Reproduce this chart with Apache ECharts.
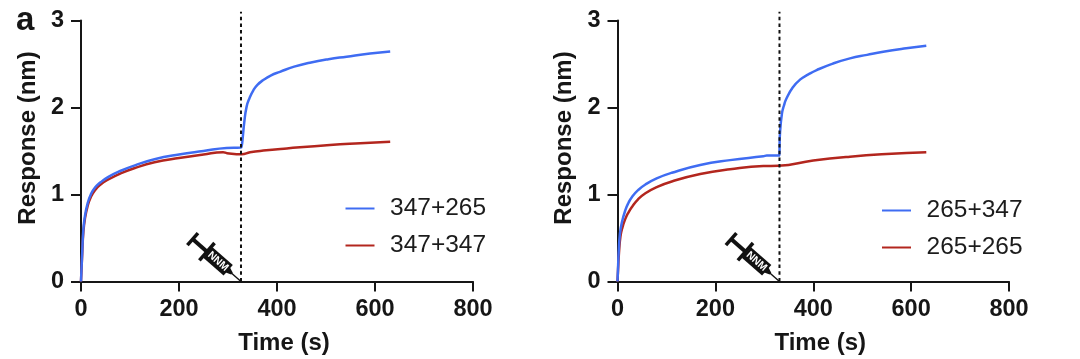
<!DOCTYPE html>
<html><head><meta charset="utf-8">
<style>html,body{margin:0;padding:0;background:#fff}#c{width:1080px;height:359px}</style>
<script src="https://cdn.jsdelivr.net/npm/echarts@6/dist/echarts.min.js"></script>
</head><body><div id="c"></div>
<script>
const leftBlue=[[0,0],[1,0.14],[2.5,0.34],[4.7,0.59],[8,0.75],[13.6,0.9],[20,1],[28.6,1.08],[40,1.14],[55,1.2],[80,1.27],[110,1.335],[150,1.405],[200,1.46],[250,1.5],[297,1.535],[326,1.54],[328,1.56],[330,1.65],[333,1.82],[338,2.01],[344,2.11],[352,2.2],[360,2.26],[372,2.316],[388,2.37],[406,2.41],[435,2.47],[467,2.515],[505,2.555],[542,2.584],[590,2.62],[631,2.645]];
const leftRed=[[0,0],[1,0.13],[2.5,0.32],[4.7,0.56],[8,0.72],[13.6,0.87],[20,0.97],[28.6,1.05],[40,1.115],[55,1.17],[80,1.24],[110,1.305],[150,1.37],[200,1.42],[250,1.46],[290,1.485],[298,1.475],[328,1.462],[345,1.485],[372,1.505],[420,1.53],[508,1.57],[570,1.59],[631,1.607]];
const rightBlue=[[0,0],[1,0.14],[2.4,0.34],[5,0.55],[9,0.68],[16,0.82],[22,0.9],[30,0.975],[42,1.05],[57,1.115],[80,1.185],[111,1.25],[169,1.339],[230,1.395],[298,1.44],[305,1.447],[330,1.447],[332,1.7],[336,1.93],[340,2.02],[345,2.1],[358,2.23],[373,2.32],[390,2.38],[407,2.43],[440,2.505],[475,2.565],[510,2.605],[543,2.64],[590,2.68],[631,2.71]];
const rightRed=[[0,0],[1.2,0.14],[3,0.33],[6,0.515],[10,0.62],[16,0.72],[22,0.79],[30,0.86],[42,0.945],[57,1.015],[80,1.085],[111,1.15],[169,1.235],[230,1.29],[298,1.327],[329,1.33],[400,1.39],[475,1.435],[550,1.465],[631,1.485]];
const leftInject=[[326.5,0],[326.5,3.1]];
const rightInject=[[331,0],[331,3.1]];
const leftTip=[[326.5,0]];
const rightTip=[[331,0]];
const xTicks={min:0,max:800,interval:200};
const yTicks={min:0,max:3,interval:1};
const namesLeft=['347+265','347+347'];
const namesRight=['265+347','265+265'];
const BLUE='#3f6cf2',RED='#b3261e',INK='#161616',FONT='"Liberation Sans",Arial,sans-serif';

function syringe(params,api){
  const p=api.coord([api.value(0),api.value(1)]);
  const r=(x,y,w,h)=>({type:'rect',shape:{x,y,width:w,height:h},style:{fill:'#111'}});
  return {type:'group',x:p[0],y:p[1],rotation:-0.72,children:[
    {type:'line',shape:{x1:-17,y1:0,x2:0,y2:0},style:{stroke:'#111',lineWidth:1.4}},
    {type:'polygon',shape:{points:[[-18,-3.5],[-12,-1.2],[-12,1.2],[-18,3.5]]},style:{fill:'#111'}},
    r(-44,-7,27,14),
    r(-64,-2,20,4),
    r(-47,-11.5,3.5,23),
    r(-66,-8,3.5,16),
    {type:'text',x:-30.5,y:0,style:{text:'NNM',fill:'#fff',font:'bold 10.5px '+FONT,align:'center',verticalAlign:'middle'}}
  ]};
}
function xAxis(i){return Object.assign({gridIndex:i,type:'value',name:'Time (s)',nameLocation:'middle',nameGap:50,
  nameTextStyle:{fontFamily:FONT,fontWeight:'bold',fontSize:24,color:INK,padding:[0,0,0,14]},
  axisLine:{show:true,lineStyle:{color:INK,width:2}},axisTick:{show:true,length:10,lineStyle:{color:INK,width:2}},
  axisLabel:{fontFamily:FONT,fontWeight:'bold',fontSize:23.5,color:INK,margin:16},splitLine:{show:false}},xTicks);}
function yAxis(i){return Object.assign({gridIndex:i,type:'value',name:'Response (nm)',nameLocation:'middle',nameGap:41,
  nameTextStyle:{fontFamily:FONT,fontWeight:'bold',fontSize:24,color:INK,padding:[0,0,0,26]},
  axisLine:{show:true,lineStyle:{color:INK,width:2}},axisTick:{show:true,length:10,lineStyle:{color:INK,width:2}},
  axisLabel:{fontFamily:FONT,fontWeight:'bold',fontSize:23.5,color:INK,margin:17},splitLine:{show:false}},yTicks);}
function curve(name,data,i,color){return {name,type:'line',xAxisIndex:i,yAxisIndex:i,data,showSymbol:false,symbol:'none',smooth:0.5,
  lineStyle:{color,width:2.5},itemStyle:{color},z:3};}
function dash(data,i){return {type:'line',xAxisIndex:i,yAxisIndex:i,data,symbol:'none',clip:false,silent:true,
  lineStyle:{color:'#111',width:2,type:[3.5,3.2]},z:4};}
function legend(names,left,top){return {data:names,left,top,orient:'vertical',icon:'rect',itemWidth:29,itemHeight:2,itemGap:12,
  textStyle:{fontFamily:FONT,fontSize:24.5,color:'#1c1c1c',padding:[0,0,0,10.5],lineHeight:24.6},selectedMode:false};}

const chart=echarts.init(document.getElementById('c'),null,{renderer:'canvas'});
chart.setOption({
  animation:false,backgroundColor:'#fff',
  title:{text:'a',left:11,top:-1,textStyle:{fontFamily:FONT,fontWeight:'bold',fontSize:33,color:INK}},
  grid:[{left:81,top:20.5,width:392,height:261,outerBoundsMode:'none'},{left:617.5,top:20.5,width:391.5,height:261,outerBoundsMode:'none'}],
  xAxis:[xAxis(0),xAxis(1)],yAxis:[yAxis(0),yAxis(1)],
  legend:[legend(namesLeft,340.5,191),legend(namesRight,877,193)],
  series:[
    curve(namesLeft[1],leftRed,0,RED),curve(namesLeft[0],leftBlue,0,BLUE),
    curve(namesRight[1],rightRed,1,RED),curve(namesRight[0],rightBlue,1,BLUE),
    dash(leftInject,0),dash(rightInject,1),
    {type:'custom',xAxisIndex:0,yAxisIndex:0,data:leftTip,renderItem:syringe,silent:true,z:5},
    {type:'custom',xAxisIndex:1,yAxisIndex:1,data:rightTip,renderItem:syringe,silent:true,z:5}
  ]
});
</script></body></html>
